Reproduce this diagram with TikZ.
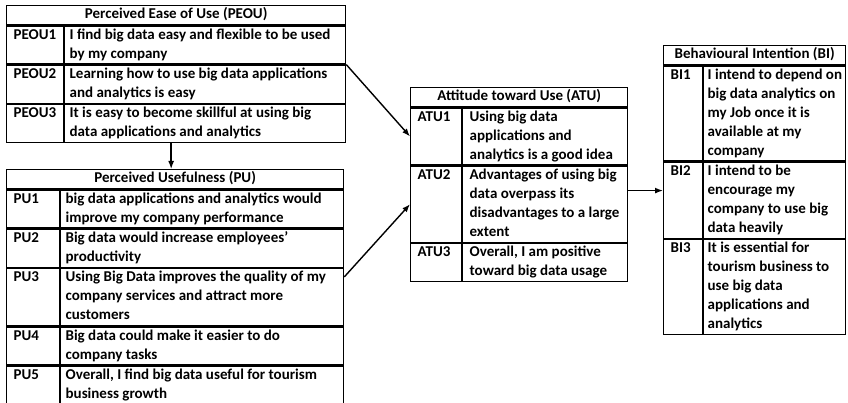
\documentclass[tikz,border=0pt]{standalone}
\usepackage{fontspec}
\setmainfont{Carlito}
\usetikzlibrary{arrows.meta}

% one table row: label column, then the statement column (lines split by \\)
\newcommand\cellrow[5]{%
  \makebox[#1][l]{\hspace*{7pt}\begin{tabular}[t]{@{}l@{}}#2\end{tabular}}%
  \makebox[#3][l]{\hspace*{#4}\begin{tabular}[t]{@{}l@{}}#5\end{tabular}}}

\begin{document}
\begin{tikzpicture}[x=1pt,y=-1pt,
  every node/.style={font=\bfseries\fontsize{15}{19}\selectfont, inner sep=0pt},
  tbl/.style={draw, line width=1.3pt, anchor=north west},
  hdr/.style={tbl, minimum height=19pt, minimum width=#1},
  colrule/.style={line width=1.3pt},
  arr/.style={line width=1.4pt, -{Latex[length=8pt,width=6pt]}}]

\fill[white] (0,0) rectangle (848,403);
\useasboundingbox (0,0) rectangle (848,403);

% Perceived Ease of Use
\node[hdr=339pt] (peouh) at (6,5) {\strut Perceived Ease of Use (PEOU)};
\node[tbl] (peou1) at (peouh.south west) {\cellrow{58pt}{PEOU1}{281pt}{5pt}{I find big data easy and flexible to be used\\by my company}};
\node[tbl] (peou2) at (peou1.south west) {\cellrow{58pt}{PEOU2}{281pt}{5pt}{Learning how to use big data applications\\and analytics is easy}};
\node[tbl] (peou3) at (peou2.south west) {\cellrow{58pt}{PEOU3}{281pt}{5pt}{It is easy to become skillful at using big\\data applications and analytics}};
\draw[colrule] ([xshift=58pt]peou1.north west) -- ([xshift=58pt]peou3.south west);

% Perceived Usefulness
\node[hdr=337pt] (puh) at (6,169) {\strut Perceived Usefulness (PU)};
\node[tbl] (pu1) at (puh.south west) {\cellrow{54pt}{PU1}{283pt}{5pt}{big data applications and analytics would\\improve my company performance}};
\node[tbl] (pu2) at (pu1.south west) {\cellrow{54pt}{PU2}{283pt}{5pt}{Big data would increase employees’\\productivity}};
\node[tbl] (pu3) at (pu2.south west) {\cellrow{54pt}{PU3}{283pt}{5pt}{Using Big Data improves the quality of my\\company services and attract more\\customers}};
\node[tbl] (pu4) at (pu3.south west) {\cellrow{54pt}{PU4}{283pt}{5pt}{Big data could make it easier to do\\company tasks}};
\node[tbl] (pu5) at (pu4.south west) {\cellrow{54pt}{PU5}{283pt}{5pt}{Overall, I find big data useful for tourism\\business growth}};
\draw[colrule] ([xshift=54pt]pu1.north west) -- ([xshift=54pt]pu5.south west);

% Attitude toward Use
\node[hdr=217pt] (atuh) at (410,87) {\strut Attitude toward Use (ATU)};
\node[tbl] (atu1) at (atuh.south west) {\cellrow{52pt}{ATU1}{165pt}{7pt}{Using big data\\applications and\\analytics is a good idea}};
\node[tbl] (atu2) at (atu1.south west) {\cellrow{52pt}{ATU2}{165pt}{7pt}{Advantages of using big\\data overpass its\\disadvantages to a large\\extent}};
\node[tbl] (atu3) at (atu2.south west) {\cellrow{52pt}{ATU3}{165pt}{7pt}{Overall, I am positive\\toward big data usage}};
\draw[colrule] ([xshift=52pt]atu1.north west) -- ([xshift=52pt]atu3.south west);

% Behavioural Intention
\node[hdr=182pt] (bih) at (663,45) {\strut Behavioural Intention (BI)};
\node[tbl] (bi1) at (bih.south west) {\cellrow{40pt}{BI1}{142pt}{4pt}{I intend to depend on\\big data analytics on\\my Job once it is\\available at my\\company}};
\node[tbl] (bi2) at (bi1.south west) {\cellrow{40pt}{BI2}{142pt}{4pt}{I intend to be\\encourage my\\company to use big\\data heavily}};
\node[tbl] (bi3) at (bi2.south west) {\cellrow{40pt}{BI3}{142pt}{4pt}{It is essential for\\tourism business to\\use big data\\applications and\\analytics}};
\draw[colrule] ([xshift=40pt]bi1.north west) -- ([xshift=40pt]bi3.south west);

% paths between the constructs
\coordinate (dn) at ([xshift=-5pt]peou3.south);
\draw[arr] (dn) -- (dn |- puh.north);
\draw[arr] (peou1.south east) -- (atu1.west);
\coordinate (puout) at ([yshift=-9pt]pu3.north east);
\draw[arr] (puout) -- (atu2.west);
\coordinate (atuout) at ([yshift=-25pt]atu2.north east);
\draw[arr] (atuout) -- (atuout -| bi2.west);
\end{tikzpicture}
\end{document}
